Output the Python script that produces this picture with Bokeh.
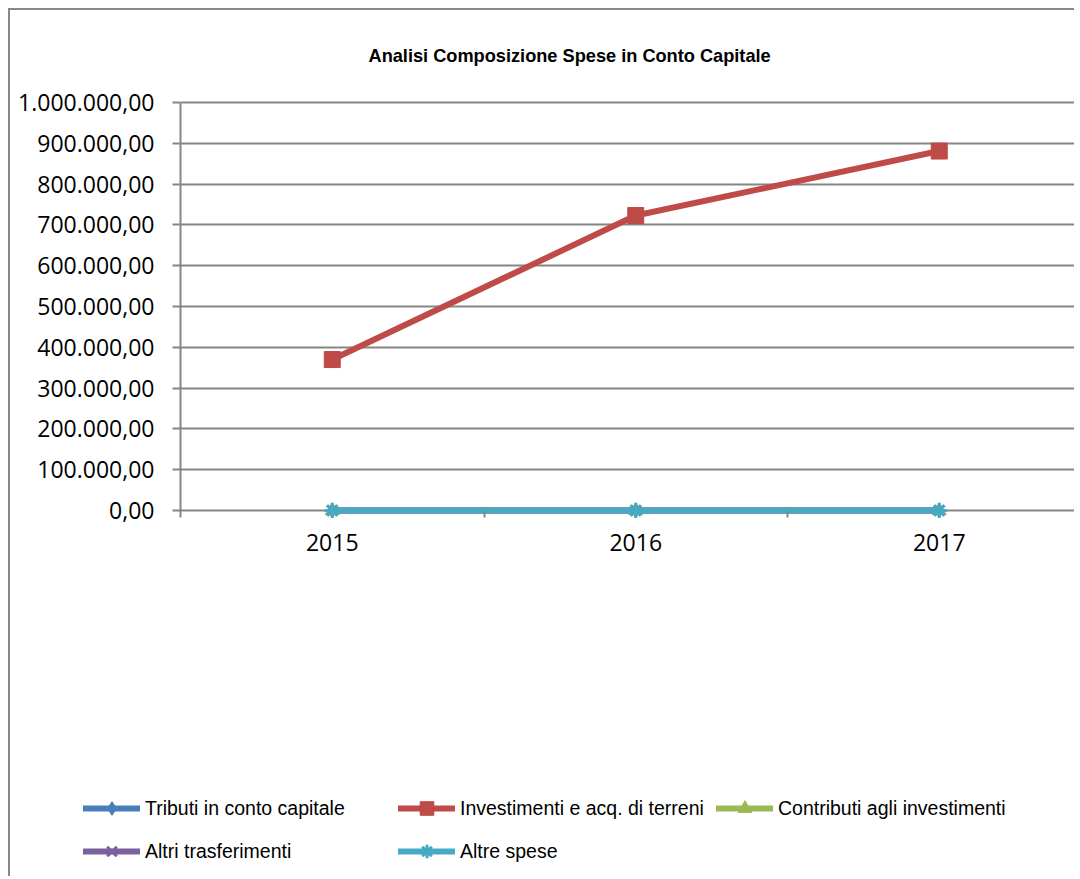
from bokeh.plotting import figure
from bokeh.layouts import column
from bokeh.models import (Range1d, FixedTicker, Legend, LegendItem, Title)
from bokeh.embed import file_html
from bokeh.resources import INLINE

# ---- data ----
years = ["2015", "2016", "2017"]
tributi = [0, 0, 0]
investimenti = [370000, 723000, 881000]
contributi = [0, 0, 0]
altri_trasf = [0, 0, 0]
altre_spese = [0, 0, 0]
series_names = ["Tributi in conto capitale", "Investimenti e acq. di terreni",
                "Contributi agli investimenti", "Altri trasferimenti", "Altre spese"]
y_ticks = [0, 100000, 200000, 300000, 400000, 500000, 600000, 700000, 800000, 900000, 1000000]
y_tick_labels = ["0,00", "100.000,00", "200.000,00", "300.000,00", "400.000,00", "500.000,00",
                 "600.000,00", "700.000,00", "800.000,00", "900.000,00", "1.000.000,00"]
title_text = "Analisi Composizione Spese in Conto Capitale"

colors = ["#4A7EBB", "#BE4B48", "#98B954", "#7D60A0", "#46AAC5"]
markers = ["diamond", "square", "triangle", "x", "asterisk"]
marker_sizes = [14, 16, 14, 14, 15]
values = [tributi, investimenti, contributi, altri_trasf, altre_spese]

GRID = "#868686"
W = 1064
H1, H2 = 610, 256
ML, MT = 170, 88
PX_PER_UNIT = 408 / 1000000
FRAME_H = 422
MB = H1 - MT - FRAME_H
frame_w = W - ML
cat_px = 303.5
x_idx = list(range(len(years)))

p = figure(width=W, height=H1, output_backend="svg", toolbar_location=None,
           x_range=Range1d(-0.5, -0.5 + frame_w / cat_px),
           y_range=Range1d(-10 / PX_PER_UNIT, 1000000 + 4 / PX_PER_UNIT),
           min_border_left=ML, min_border_right=0, min_border_top=MT, min_border_bottom=MB,
           background_fill_color="white", border_fill_color="white")
p.outline_line_color = None
p.frame_align = False

p.title = Title(text=title_text, align="left", offset=188, standoff=66,
                text_font="Liberation Sans", text_font_size="18.2px",
                text_font_style="bold", text_color="black")

# axes
p.xgrid.grid_line_color = None
p.ygrid.grid_line_color = GRID
p.ygrid.grid_line_width = 2
p.ygrid.ticker = FixedTicker(ticks=y_ticks)
p.yaxis.ticker = FixedTicker(ticks=y_ticks)
p.yaxis.bounds = (-7 / PX_PER_UNIT, 1000000)
p.yaxis.major_label_overrides = {t: l for t, l in zip(y_ticks, y_tick_labels)}
p.yaxis.axis_line_color = GRID
p.yaxis.axis_line_width = 2
p.yaxis.major_tick_line_color = GRID
p.yaxis.major_tick_line_width = 2
p.yaxis.major_tick_out = 8
p.yaxis.major_tick_in = 0
p.yaxis.minor_tick_line_color = None
p.yaxis.major_label_standoff = 18
p.yaxis.major_label_text_font = "Open Sans"
p.yaxis.major_label_text_font_size = "23px"
p.yaxis.major_label_text_color = "black"

# x axis sits at the frame bottom (10 px under the zero line); the zero grid line is the axis line
p.xaxis.ticker = FixedTicker(ticks=x_idx, minor_ticks=[i + 0.5 for i in x_idx])
p.xaxis.major_label_overrides = {i: y for i, y in zip(x_idx, years)}
p.xaxis.axis_line_color = None
p.xaxis.major_tick_line_color = None
p.xaxis.major_tick_out = 0
p.xaxis.major_tick_in = 0
p.xaxis.minor_tick_line_color = GRID
p.xaxis.minor_tick_line_width = 2
p.xaxis.minor_tick_in = 10
p.xaxis.minor_tick_out = -3
p.xaxis.major_label_standoff = 13
p.xaxis.major_label_text_font = "Open Sans"
p.xaxis.major_label_text_font_size = "23px"
p.xaxis.major_label_text_color = "black"

# series
for name, vals, c, m, s in zip(series_names, values, colors, markers, marker_sizes):
    p.line(x_idx, vals, line_color=c, line_width=6, line_cap="round", line_join="round")
    if m in ("x", "asterisk"):
        p.scatter(x_idx, vals, marker=m, size=s, line_color=c, line_width=3)
    else:
        p.scatter(x_idx, vals, marker=m, size=s, fill_color=c, line_color=c, line_width=1)

# legend figure (below the chart, same chart area)
p2 = figure(width=W, height=H2, output_backend="svg", toolbar_location=None,
            x_range=Range1d(0, 1), y_range=Range1d(0, 1),
            x_axis_location=None, y_axis_location=None,
            min_border_left=0, min_border_right=0, min_border_top=0, min_border_bottom=0,
            background_fill_color="white", border_fill_color="white")
p2.outline_line_color = None
p2.frame_align = False
p2.xgrid.visible = False
p2.ygrid.visible = False

leg_pos = [(73, 51), (388, 51), (706, 51), (73, 8), (388, 8)]
for name, c, m, pos in zip(series_names, colors, markers, leg_pos):
    # sample renderers kept outside the visible range; only their legend swatch shows
    lr = p2.line([-5, -4], [-5, -5], line_color=c, line_width=6, line_cap="round")
    if m in ("x", "asterisk"):
        sr = p2.scatter([-5], [-5], marker=m, size=12, line_color=c, line_width=3)
    else:
        sr = p2.scatter([-5], [-5], marker=m, size=12, fill_color=c, line_color=c, line_width=1)
    lg = Legend(items=[LegendItem(label=name, renderers=[lr, sr])], location=pos,
                orientation="horizontal",
                glyph_width=57, glyph_height=34, label_height=20, label_standoff=5,
                padding=0, margin=0, spacing=0,
                border_line_color=None, background_fill_alpha=0,
                label_text_font="Liberation Sans", label_text_font_size="19.5px",
                label_text_color="black")
    p2.add_layout(lg, "center")

layout = column(p, p2, spacing=0)
layout.styles = {"border-top": "2px solid #878787", "border-left": "2px solid #878787",
                 "margin-top": "8px", "margin-left": "8px"}

open("out.html", "w").write(file_html(layout, INLINE))
